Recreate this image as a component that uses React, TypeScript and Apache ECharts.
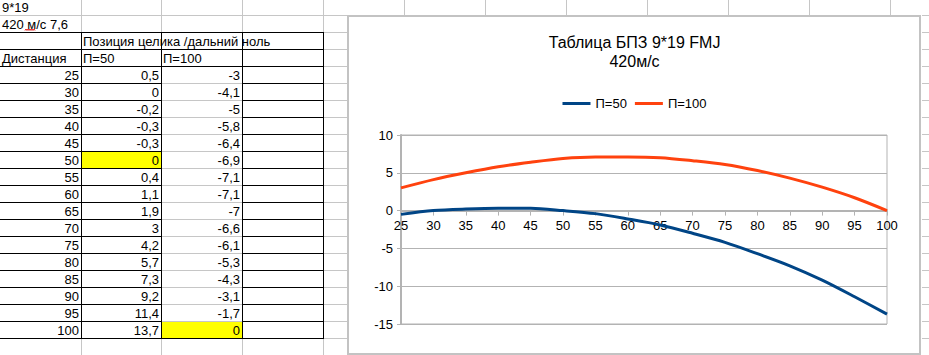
import React, { useEffect, useRef } from "react";
import * as echarts from "echarts";

// ---- data ----
const distances = [25, 30, 35, 40, 45, 50, 55, 60, 65, 70, 75, 80, 85, 90, 95, 100];
const table50 = [0.5, 0, -0.2, -0.3, -0.3, 0, 0.4, 1.1, 1.9, 3, 4.2, 5.7, 7.3, 9.2, 11.4, 13.7];
const table100 = [-3, -4.1, -5, -5.8, -6.4, -6.9, -7.1, -7.1, -7, -6.6, -6.1, -5.3, -4.3, -3.1, -1.7, 0];
const chart50 = [-0.5, 0, 0.2, 0.3, 0.3, 0, -0.4, -1.1, -1.9, -3, -4.2, -5.7, -7.3, -9.2, -11.4, -13.7];
const chart100 = [3, 4.1, 5, 5.8, 6.4, 6.9, 7.1, 7.1, 7, 6.6, 6.1, 5.3, 4.3, 3.1, 1.7, 0];
const seriesNames = ["П=50", "П=100"];
const sheetLine1 = "9*19";
const sheetLine2 = "420 м/с 7,6";
const headerText = "Позиция целика /дальний ноль";
const colHeader = "Дистанция";
const chartTitle = "Таблица БПЗ 9*19 FMJ\n420м/с";
const yMin = -15;
const yMax = 10;
const yStep = 5;
const yellow50Index = 5; // row of distance 50
const yellow100Index = 15; // row of distance 100

const FONT = '"Liberation Sans", Arial, sans-serif';
const W = 929;
const H = 355;

const colX = [0, 81, 161, 242, 323, 404, 485, 566, 647, 728, 809, 890, 971];
const rowTop = (r: number) => 15 + 17 * (r - 2); // r: spreadsheet row number (>=2)

const fmt = (v: number) => String(v).replace(".", ",");

function buildSheet(): any[] {
  const els: any[] = [];
  els.push({ type: "rect", shape: { x: 0, y: 0, width: W, height: H }, style: { fill: "#fff" } });
  const r50 = rowTop(5 + yellow50Index);
  els.push({ type: "rect", shape: { x: colX[1], y: r50, width: colX[2] - colX[1], height: 17 }, style: { fill: "#ffff00" } });
  const r100 = rowTop(5 + yellow100Index);
  els.push({ type: "rect", shape: { x: colX[2], y: r100, width: colX[3] - colX[2], height: 17 }, style: { fill: "#ffff00" } });
  const gray = "#c6c6c6";
  for (let i = 1; i < colX.length; i++) {
    const x = colX[i] + 0.5;
    els.push({ type: "line", shape: { x1: x, y1: 0, x2: x, y2: H }, style: { stroke: gray, lineWidth: 1 } });
  }
  for (let r = 2; r <= 22; r++) {
    const y = rowTop(r) + 0.5;
    els.push({ type: "line", shape: { x1: 0, y1: y, x2: W, y2: y }, style: { stroke: gray, lineWidth: 1 } });
  }
  const black = "#000";
  for (let r = 3; r <= 21; r++) {
    const y = rowTop(r) + 0.5;
    const innerC = r >= 6 && r <= 20;
    if (innerC) {
      els.push({ type: "line", shape: { x1: 0, y1: y, x2: colX[2], y2: y }, style: { stroke: black, lineWidth: 1 } });
      els.push({ type: "line", shape: { x1: colX[3], y1: y, x2: colX[4] + 1, y2: y }, style: { stroke: black, lineWidth: 1 } });
    } else {
      els.push({ type: "line", shape: { x1: 0, y1: y, x2: colX[4] + 1, y2: y }, style: { stroke: black, lineWidth: 1 } });
    }
  }
  for (let i = 1; i <= 4; i++) {
    const x = colX[i] + 0.5;
    els.push({ type: "line", shape: { x1: x, y1: rowTop(3), x2: x, y2: rowTop(21) + 1 }, style: { stroke: black, lineWidth: 1 } });
  }
  const txt = (text: string, x: number, y: number, align: string) => ({
    type: "text",
    x,
    y,
    style: {
      text,
      fill: "#000",
      font: `13px ${FONT}`,
      align,
      textAlign: align,
      verticalAlign: "middle",
      textVerticalAlign: "middle",
    },
  });
  els.push(txt(sheetLine1, 2, 7, "left"));
  els.push(txt(sheetLine2, 2, 24, "left"));
  const pts: number[][] = [];
  for (let i = 0; i <= 10; i++) pts.push([25 + i, i % 2 === 0 ? 30.5 : 29]);
  els.push({ type: "polyline", shape: { points: pts }, style: { stroke: "#e02020", lineWidth: 1, fill: null } });
  els.push(txt(headerText, 83, rowTop(3) + 9, "left"));
  els.push(txt(colHeader, 2, rowTop(4) + 9, "left"));
  els.push(txt(seriesNames[0], 83, rowTop(4) + 9, "left"));
  els.push(txt(seriesNames[1], 163, rowTop(4) + 9, "left"));
  distances.forEach((d, i) => {
    const cy = rowTop(5 + i) + 9;
    els.push(txt(String(d), colX[1] - 2, cy, "right"));
    els.push(txt(fmt(table50[i]), colX[2] - 2, cy, "right"));
    els.push(txt(fmt(table100[i]), colX[3] - 2, cy, "right"));
  });
  return els;
}

export default function App() {
  const sheetRef = useRef<HTMLDivElement>(null);
  const chartRef = useRef<HTMLDivElement>(null);

  useEffect(() => {
    const sheet = echarts.init(sheetRef.current!, undefined, { renderer: "svg" });
    sheet.setOption({ animation: false, graphic: { elements: buildSheet() } });

    const gridH = 189;
    // place the category axis on the zero line of the value axis
    const zeroOffset = -((0 - yMin) / (yMax - yMin)) * gridH;

    const chart = echarts.init(chartRef.current!, undefined, { renderer: "svg" });
    chart.setOption({
      animation: false,
      backgroundColor: "#fff",
      textStyle: { fontFamily: FONT },
      title: {
        text: chartTitle,
        left: "center",
        top: 13,
        textStyle: { fontSize: 16, fontWeight: "normal", color: "#000", fontFamily: FONT, lineHeight: 19 },
      },
      legend: {
        data: seriesNames,
        left: "center",
        top: 77,
        icon: "rect",
        itemWidth: 28,
        itemHeight: 3,
        itemGap: 8,
        textStyle: { fontSize: 13, color: "#000", fontFamily: FONT },
      },
      graphic: {
        elements: [
          {
            type: "rect",
            shape: { x: 1, y: 1, width: 572, height: 338 },
            style: { fill: null, stroke: "#c3c3c3", lineWidth: 2 },
          },
        ],
      },
      grid: {
        left: 54,
        top: 120,
        width: 486,
        height: gridH,
        show: true,
        borderColor: "#b3b3b3",
        borderWidth: 1,
        backgroundColor: "transparent",
      },
      xAxis: {
        type: "category",
        data: distances.map(String),
        boundaryGap: false,
        position: "bottom",
        offset: zeroOffset,
        axisLine: { onZero: false, lineStyle: { color: "#b3b3b3", width: 2 } },
        axisTick: { show: true, length: 5, lineStyle: { color: "#b3b3b3" } },
        axisLabel: { color: "#000", fontSize: 13, margin: 8, fontFamily: FONT, interval: 0 },
        splitLine: { show: false },
      },
      yAxis: {
        type: "value",
        min: yMin,
        max: yMax,
        interval: yStep,
        axisLine: { show: true, lineStyle: { color: "#b3b3b3", width: 2 } },
        axisTick: { show: true, length: 4, lineStyle: { color: "#b3b3b3" } },
        axisLabel: { color: "#000", fontSize: 13, margin: 8, fontFamily: FONT },
        splitLine: { show: true, lineStyle: { color: "#b3b3b3", width: 1 } },
      },
      series: [
        {
          name: seriesNames[0],
          type: "line",
          data: chart50,
          smooth: 0.3,
          showSymbol: false,
          color: "#004586",
          lineStyle: { width: 3, color: "#004586" },
        },
        {
          name: seriesNames[1],
          type: "line",
          data: chart100,
          smooth: 0.3,
          showSymbol: false,
          color: "#ff420e",
          lineStyle: { width: 3, color: "#ff420e" },
        },
      ],
    });
    return () => {
      sheet.dispose();
      chart.dispose();
    };
  }, []);

  return (
    <div style={{ position: "fixed", left: 0, top: 0, width: W, height: H, overflow: "hidden", background: "#fff" }}>
      <div ref={sheetRef} style={{ position: "absolute", left: 0, top: 0, width: W, height: H }} />
      <div ref={chartRef} style={{ position: "absolute", left: 347, top: 15, width: 575, height: 340 }} />
    </div>
  );
}
